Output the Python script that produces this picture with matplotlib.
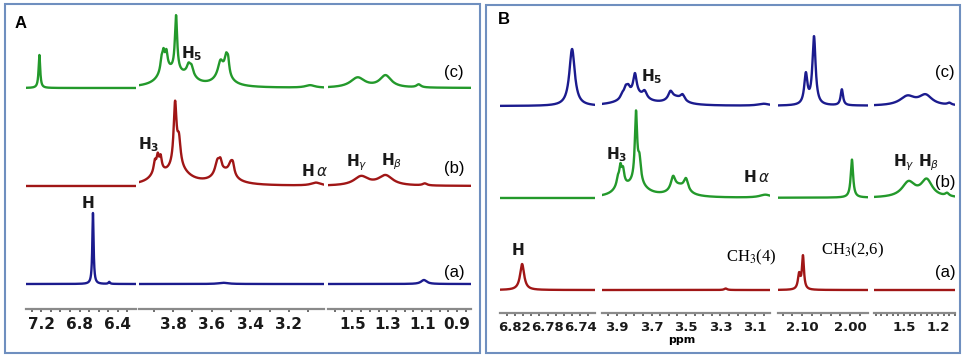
import numpy as np
import matplotlib
matplotlib.use("Agg")
import matplotlib.pyplot as plt
from matplotlib.patches import Rectangle
from matplotlib.ticker import MultipleLocator, FixedLocator

W, H = 963, 356

# ---------------- data ----------------
# segment ppm ranges (left, right) and tick labels
A_seg_lims = [(7.36, 6.21), (3.977, 3.018), (1.64, 0.82)]
A_ticks = [[7.2, 6.8, 6.4], [3.8, 3.6, 3.4, 3.2], [1.5, 1.3, 1.1, 0.9]]
A_tick_labels = [["7.2", "6.8", "6.4"], ["3.8", "3.6", "3.4", "3.2"], ["1.5", "1.3", "1.1", "0.9"]]

B_seg_lims = [(6.838, 6.722), (3.987, 3.013), (2.15, 1.9625), (1.765, 1.05)]
B_ticks = [[6.82, 6.78, 6.74], [3.9, 3.7, 3.5, 3.3, 3.1], [2.10, 2.00], [1.5, 1.2]]
B_tick_labels = [["6.82", "6.78", "6.74"], ["3.9", "3.7", "3.5", "3.3", "3.1"],
                 ["2.10", "2.00"], ["1.5", "1.2"]]

# peak lists: ppm, intensity, half-width (ppm)
A_a_ppm = [6.66, 6.49, 3.54, 1.09]
A_a_int = [71, 2, 1.2, 4]
A_a_hw = [0.008, 0.01, 0.03, 0.02]

A_b_ppm = [3.79, 3.78, 3.77, 3.895, 3.88, 3.865, 3.88, 3.57, 3.555, 3.50, 3.49, 3.535, 3.06,
           1.45, 1.31, 1.085]
A_b_int = [62, 16, 25, 10, 13, 12, 10, 14, 8, 12, 7, 12, 3,
           9, 10, 2]
A_b_hw = [0.009, 0.07, 0.01, 0.007, 0.007, 0.007, 0.04, 0.015, 0.008, 0.015, 0.008, 0.06, 0.03,
          0.05, 0.05, 0.015]

A_c_ppm = [7.22, 3.785, 3.79, 3.85, 3.835, 3.86, 3.845, 3.72, 3.705, 3.715, 3.555, 3.525, 3.515,
           3.54, 3.09, 1.47, 1.31, 1.12]
A_c_int = [33, 55, 12, 14, 14, 10, 12, 7, 7, 8, 13, 16, 12,
           13, 2.5, 10, 12, 3]
A_c_hw = [0.01, 0.007, 0.07, 0.007, 0.007, 0.007, 0.035, 0.01, 0.01, 0.035, 0.015, 0.01, 0.007,
          0.045, 0.03, 0.05, 0.04, 0.015]

B_a_ppm = [6.811, 3.27, 2.106, 2.098]
B_a_int = [26, 1.5, 15, 33]
B_a_hw = [0.003, 0.01, 0.003, 0.0025]

B_b_ppm = [3.79, 3.77, 3.79, 3.88, 3.865, 3.895, 3.88, 3.575, 3.50, 3.54, 3.04,
           1.996, 1.46, 1.30, 1.12]
B_b_int = [68, 22, 13, 15, 12, 6, 10, 13, 12, 10, 3,
           38, 15, 17, 3]
B_b_hw = [0.008, 0.01, 0.07, 0.008, 0.008, 0.008, 0.035, 0.015, 0.015, 0.055, 0.04,
          0.003, 0.07, 0.06, 0.02]

B_c_ppm = [6.75, 3.796, 3.85, 3.835, 3.87, 3.74, 3.80, 3.59, 3.52, 3.56, 3.05,
           2.092, 2.075, 2.017, 1.47, 1.31, 1.10]
B_c_int = [57, 20, 8, 7, 4, 7, 11, 8, 6, 7, 2,
           30, 68, 16, 9, 10, 2]
B_c_hw = [0.004, 0.012, 0.012, 0.012, 0.012, 0.015, 0.08, 0.015, 0.015, 0.055, 0.04,
          0.004, 0.004, 0.003, 0.08, 0.07, 0.02]

trace_labels = ["(c)", "(b)", "(a)"]

# ---------------- style ----------------
GREEN = "#23992b"
RED = "#a01616"
NAVY = "#1b1b8e"
BORDER = "#6f8fbf"


def P(x, y):
    return x / W, 1 - y / H


def spectrum(x, ppm, inten, hw):
    y = np.zeros_like(x)
    for p, h, w in zip(ppm, inten, hw):
        y += h / (1 + ((x - p) / w) ** 2)
    return y


fig = plt.figure(figsize=(W / 100, H / 100), dpi=100)


def make_panel(seg_px, seg_lims, ticks, tlabels, minors, axis_y, top, traces, tfs):
    axes = []
    for (l, r), lim, tk, tl, mn in zip(seg_px, seg_lims, ticks, tlabels, minors):
        ax = fig.add_axes([l / W, 1 - axis_y / H, (r - l) / W, (axis_y - top) / H])
        ax.set_xlim(lim[0], lim[1])
        ax.set_ylim(0, axis_y - top)
        ax.patch.set_alpha(0)
        for s in ["top", "left", "right"]:
            ax.spines[s].set_visible(False)
        ax.spines["bottom"].set_color("#8a8a8a")
        ax.spines["bottom"].set_linewidth(1.6)
        ax.set_yticks([])
        ax.xaxis.set_major_locator(FixedLocator(tk))
        ax.set_xticklabels(tl, fontsize=tfs, fontweight="bold", family="DejaVu Sans", color="#1a1a1a")
        ax.xaxis.set_minor_locator(MultipleLocator(mn))
        ax.tick_params(axis="x", which="both", direction="out", length=2, width=1.2,
                       color="#555555", pad=4)
        x = np.linspace(lim[0], lim[1], 5000)
        for (ppm, inten, hw, color, off) in traces:
            ax.plot(x, off + spectrum(x, ppm, inten, hw), color=color, lw=1.7,
                    solid_joinstyle="round")
        axes.append(ax)
    return axes


# Panel A
A_seg_px = [(26, 136), (139, 324), (328, 471)]
A_traces = [(A_a_ppm, A_a_int, A_a_hw, NAVY, 25),
            (A_b_ppm, A_b_int, A_b_hw, RED, 123),
            (A_c_ppm, A_c_int, A_c_hw, GREEN, 221)]
make_panel(A_seg_px, A_seg_lims, A_ticks, A_tick_labels, [0.1, 0.1, 0.05], 309, 10, A_traces, 11)

# Panel B
B_seg_px = [(500, 595), (602, 770), (778, 868), (874, 955)]
B_traces = [(B_a_ppm, B_a_int, B_a_hw, RED, 23),
            (B_b_ppm, B_b_int, B_b_hw, GREEN, 115),
            (B_c_ppm, B_c_int, B_c_hw, NAVY, 207)]
make_panel(B_seg_px, B_seg_lims, B_ticks, B_tick_labels, [0.01, 0.05, 0.02, 0.05], 313, 10, B_traces, 9.5)

# borders
for (x0, y0, x1, y1) in [(4.5, 3.5, 479.5, 352.5), (486, 4.5, 959.5, 352.5)]:
    fig.patches.append(Rectangle(P(x0, y1), (x1 - x0) / W, (y1 - y0) / H, transform=fig.transFigure,
                                 fill=False, edgecolor=BORDER, lw=1.5))

# panel letters
fig.text(*P(21, 23), "A", fontsize=12, fontweight="bold", family="Liberation Sans", ha="center", va="center")
fig.text(*P(504, 20), "B", fontsize=12, fontweight="bold", family="Liberation Sans", ha="center", va="center")

# trace labels
for lbl, y in zip(trace_labels, [72, 168, 273]):
    fig.text(*P(454, y), lbl, fontsize=12, family="Liberation Sans", ha="center", va="center")
for lbl, y in zip(trace_labels, [73, 182, 273]):
    fig.text(*P(945, y), lbl, fontsize=12, family="Liberation Sans", ha="center", va="center")

# peak labels
hk = dict(fontsize=11, ha="center", va="center", color="#1a1a1a", math_fontfamily="dejavusans")
fig.text(*P(88, 203), r"$\mathbf{H}$", **hk)
fig.text(*P(149, 145), r"$\mathbf{H}_\mathbf{3}$", **hk)
fig.text(*P(192, 54), r"$\mathbf{H}_\mathbf{5}$", **hk)
fig.text(*P(315, 171), r"$\mathbf{H}\,\alpha$", **hk)
fig.text(*P(357, 163), r"$\mathbf{H}_{\gamma}$", **hk)
fig.text(*P(392, 162), r"$\mathbf{H}_{\beta}$", **hk)

fig.text(*P(518, 250), r"$\mathbf{H}$", **hk)
fig.text(*P(617, 155), r"$\mathbf{H}_\mathbf{3}$", **hk)
fig.text(*P(652, 77), r"$\mathbf{H}_\mathbf{5}$", **hk)
fig.text(*P(757, 177), r"$\mathbf{H}\,\alpha$", **hk)
fig.text(*P(904, 163), r"$\mathbf{H}_{\gamma}$", **hk)
fig.text(*P(929, 163), r"$\mathbf{H}_{\beta}$", **hk)

ck = dict(fontsize=12, ha="center", va="center", family="Liberation Serif", math_fontfamily="stix")
fig.text(*P(751, 257), r"CH$_3$(4)", **ck)
fig.text(*P(853, 250), r"CH$_3$(2,6)", **ck)

fig.text(*P(682, 340), "ppm", fontsize=8, fontweight="bold", family="DejaVu Sans", ha="center", va="center")

fig.savefig("out.png", dpi=100)
